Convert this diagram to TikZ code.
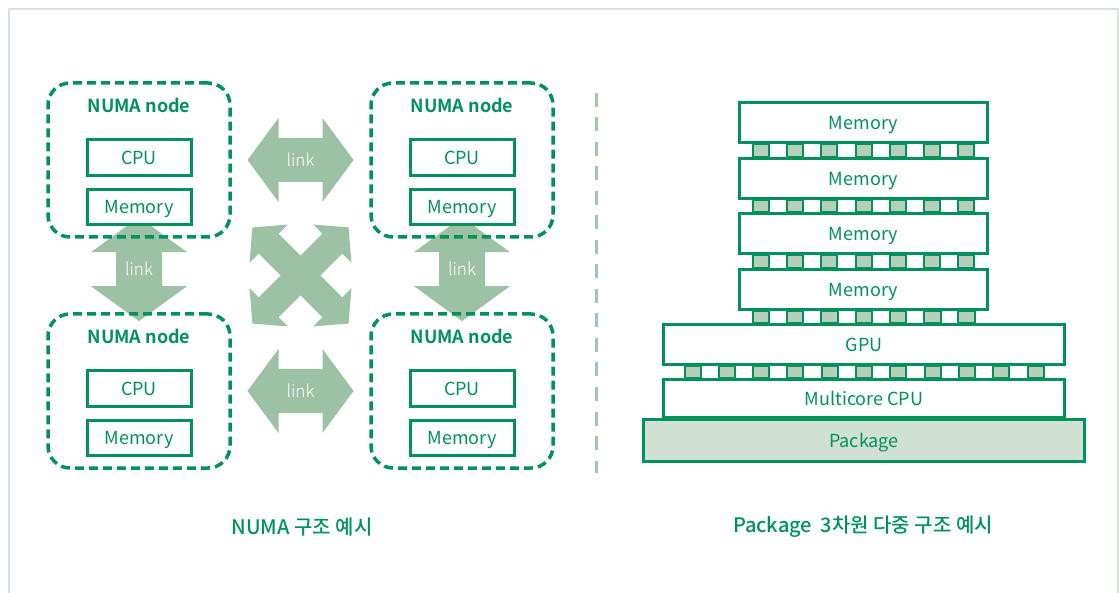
\documentclass[tikz,border=0pt]{standalone}
\usepackage{fontspec}
\setmainfont{Noto Sans CJK KR}
\newfontfamily\medfont{Noto Sans CJK KR Medium}
\newfontfamily\boldfont{Noto Sans CJK KR Bold}
\newfontfamily\thinfont{Noto Sans CJK KR Light}
\usetikzlibrary{positioning,calc,shadows,backgrounds}
\definecolor{fgreen}{HTML}{00925A}
\definecolor{flink}{HTML}{9DC1A4}
\definecolor{fbump}{HTML}{B5CFB9}
\definecolor{fpack}{HTML}{D0E1D3}
\definecolor{fframe}{HTML}{D5E3D9}
\definecolor{fdiv}{HTML}{A0C8A9}
\tikzset{
  numabox/.style   = {draw=fgreen, line width=3.5pt, dash pattern=on 9pt off 5pt,
                      rounded corners=22pt, minimum width=182pt, minimum height=154pt},
  numatitle/.style = {text=fgreen, font=\boldfont\fontsize{18}{20}\selectfont},
  chip/.style      = {draw=fgreen, line width=3pt, fill=white, minimum width=104pt,
                      minimum height=36pt, inner sep=0pt, text=fgreen, text depth=0pt,
                      font=\fontsize{18}{20}\selectfont,
                      drop shadow={shadow xshift=1.5pt, shadow yshift=-1.5pt, opacity=0.2}},
  layer/.style     = {draw=fgreen, line width=3pt, fill=white, minimum height=40pt,
                      inner sep=0pt, text=fgreen, text depth=0pt,
                      font=\fontsize{18}{20}\selectfont},
  bump/.style      = {draw=fgreen, line width=2pt, fill=fbump},
  linktext/.style  = {text=white, font=\thinfont\fontsize{17}{19}\selectfont},
  caption/.style   = {text=fgreen, font=\medfont\fontsize{20}{24}\selectfont},
  % half length, head length, head half width, shaft half width
  pics/dlink/.style n args={4}{code={
    \fill[flink] (-#1,0) -- (-#1+#2,#3) -- (-#1+#2,#4) -- (#1-#2,#4) -- (#1-#2,#3)
      -- (#1,0) -- (#1-#2,-#3) -- (#1-#2,-#4) -- (-#1+#2,-#4) -- (-#1+#2,-#3) -- cycle;
    \node[linktext] (-lbl) {link};
  }},
  pics/xlink/.style={code={
    \foreach \a in {45,135,225,315}
      \fill[flink,rotate=\a] (0,-14) -- (45,-14) -- (45,-27) -- (68,0)
        -- (45,27) -- (45,14) -- (0,14) -- cycle;
  }},
}

\begin{document}
\begin{tikzpicture}[x=1pt,y=-1pt]
\useasboundingbox (0,0) rectangle (1119,593);
\draw[fframe, line width=1.5pt] (9,593) -- (9,9) -- (1118,9) -- (1118,593);

% NUMA nodes
\foreach \k/\x/\y in {a/139/160, b/462/160, c/139/391, d/462/391}{
  \node[numabox] (n\k) at (\x,\y) {};
  \node[numatitle] (t\k) at ([yshift=-24pt]n\k.north) {NUMA node};
  \node[chip] (c\k) at ([yshift=2.5pt]n\k.center) {CPU};
  \node[chip, minimum height=35pt, below=11pt of c\k] (m\k) {Memory};
}

% links
\begin{scope}[on background layer]
  \pic (lab) at ($(na.east)!0.5!(nb.west)$) {dlink={53}{31}{42}{22}};
  \pic (lcd) at ($(nc.east)!0.5!(nd.west)$) {dlink={53}{31}{42}{22}};
  \pic[rotate=90] (lac) at ($(ma.south)!0.5!(nc.north)$) {dlink={52}{35}{48}{23}};
  \pic[rotate=90] (lbd) at ($(mb.south)!0.5!(nd.north)$) {dlink={52}{35}{48}{23}};
  \pic (lx) at ($(na.center)!0.5!(nd.center)$) {xlink};
\end{scope}

% divider
\draw[fdiv, line width=3pt, dash pattern=on 14pt off 10.5pt] (596,93) -- (596,473);

% stacked package
\node[layer, minimum width=248pt] (mem1) at (863.5,122.5) {Memory};
\node[layer, minimum width=248pt] (mem2) at (863.5,178.5) {Memory};
\node[layer, minimum width=248pt] (mem3) at (863.5,234) {Memory};
\node[layer, minimum width=248pt] (mem4) at (863.5,289.5) {Memory};
\node[layer, minimum width=401pt] (gpu) at (864,344.5) {GPU};
\node[layer, minimum width=401pt, minimum height=38pt] (mcpu) at (864,398.5) {Multicore CPU};
\node[layer, fill=fpack, minimum width=441pt, minimum height=42pt] (pkg) at (864,440.5) {Package};

\foreach \up/\lo in {mem1/mem2, mem2/mem3, mem3/mem4, mem4/gpu}
  \foreach \i in {-3,...,3}
    \draw[bump] ($(\up.south)+(\i*34.3-8,0)$) rectangle ($(\lo.north)+(\i*34.3+8,0)$);
\foreach \i in {-5,...,5}
  \draw[bump] ($(gpu.south)+(\i*34.3-8,0)$) rectangle ($(mcpu.north)+(\i*34.3+8,0)$);

% captions
\node[caption] (capl) at (302,527) {NUMA 구조 예시};
\node[caption] (capr) at (863,527) {Package\hspace{0.2em} 3차원 다중 구조 예시};
\end{tikzpicture}
\end{document}
